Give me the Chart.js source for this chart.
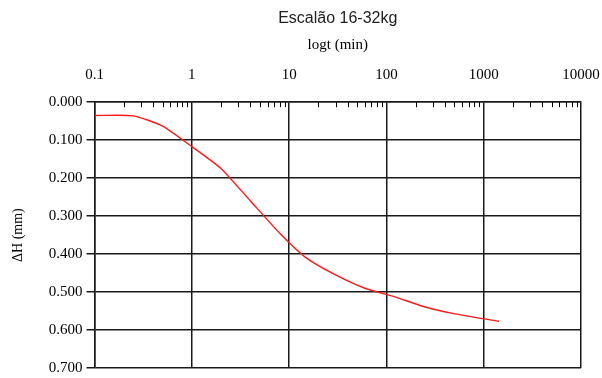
<!DOCTYPE html>
<html>
<head>
<meta charset="utf-8">
<script src="https://cdn.jsdelivr.net/npm/chart.js@4.4.1/dist/chart.umd.min.js"></script>
<style>
html, body { margin: 0; padding: 0; background: #fff; }
#wrap { width: 602px; height: 378px; }
</style>
</head>
<body>
<div id="wrap"><canvas id="c" width="602" height="378"></canvas></div>
<script>
// time readings (min) and settlement (mm)
const tempo = [0.1, 0.25, 0.5, 1, 2, 4, 8, 15, 30, 60, 120, 240, 480, 1440];
const deltaH = [0.035, 0.036, 0.063, 0.117, 0.175, 0.26, 0.345, 0.41, 0.455, 0.49, 0.512, 0.538, 0.556, 0.577];

const decadas = [0.1, 1, 10, 100, 1000, 10000];
const yTicks = [0, 0.1, 0.2, 0.3, 0.4, 0.5, 0.6, 0.7];

// all log ticks 1..9 in each decade
let xTicks = [];
for (let i = 0; i < decadas.length - 1; i++) {
  for (let k = 1; k < 10; k++) {
    xTicks.push(+(decadas[i] * k).toPrecision(6));
  }
}
xTicks.push(decadas[decadas.length - 1]);

function isDecade(v) {
  return decadas.indexOf(v) >= 0;
}

// short minor tick marks hanging under the top border
const minorTicks = {
  id: 'minorTicks',
  afterDatasetsDraw(chart) {
    const x = chart.scales.x;
    const top = chart.chartArea.top;
    const ctx = chart.ctx;
    ctx.save();
    ctx.strokeStyle = '#000';
    ctx.lineWidth = 1;
    x.ticks.forEach(function(t) {
      if (isDecade(t.value)) return;
      const px = Math.round(x.getPixelForValue(t.value)) + 0.5;
      ctx.beginPath();
      ctx.moveTo(px, top);
      ctx.lineTo(px, top + 5);
      ctx.stroke();
    });
    ctx.restore();
  }
};

const data = tempo.map(function(t, i) { return {x: t, y: deltaH[i]}; });

new Chart(document.getElementById('c'), {
  type: 'line',
  data: {
    datasets: [{
      data: data,
      borderColor: '#ff1a1a',
      borderWidth: 1.4,
      pointRadius: 0,
      fill: false,
      tension: 0.2
    }]
  },
  options: {
    responsive: false,
    animation: false,
    layout: { padding: { left: 10, right: 21, top: 7, bottom: 10 } },
    plugins: {
      legend: { display: false },
      tooltip: { enabled: false },
      title: {
        display: true,
        text: 'Escalão 16-32kg',
        fullSize: false,
        color: '#222',
        font: { family: 'Liberation Sans', size: 16, weight: 'normal' },
        padding: { top: 2, bottom: 8 }
      },
      subtitle: {
        display: true,
        text: 'logt (min)',
        fullSize: false,
        color: '#000',
        font: { family: 'Liberation Serif', size: 15 },
        padding: { top: 0, bottom: 0 }
      }
    },
    scales: {
      x: {
        type: 'logarithmic',
        position: 'top',
        min: 0.1,
        max: 10000,
        afterBuildTicks: function(scale) {
          scale.ticks = xTicks.map(function(v) { return {value: v}; });
        },
        afterFit: function(scale) {
          scale.paddingLeft = 0;
          scale.paddingRight = 0;
          scale.height = scale.height - 6;
        },
        ticks: {
          autoSkip: false,
          maxRotation: 0,
          color: '#000',
          font: { family: 'Liberation Serif', size: 15 },
          padding: 18,
          callback: function(v) { return isDecade(v) ? String(v) : ''; }
        },
        grid: {
          drawTicks: false,
          color: function(c) { return c.tick && isDecade(c.tick.value) ? '#1a1a1a' : 'rgba(0,0,0,0)'; },
          lineWidth: 1.5
        },
        border: { display: true, color: '#1a1a1a', width: 1.5 }
      },
      y: {
        reverse: true,
        min: 0,
        max: 0.7,
        afterBuildTicks: function(scale) {
          scale.ticks = yTicks.map(function(v) { return {value: v}; });
        },
        afterFit: function(scale) {
          scale.paddingTop = 0;
          scale.paddingBottom = 0;
        },
        title: {
          display: true,
          text: 'ΔH (mm)',
          color: '#000',
          font: { family: 'Liberation Serif', size: 14 },
          padding: { top: 0, bottom: 18 }
        },
        ticks: {
          color: '#000',
          font: { family: 'Liberation Serif', size: 15 },
          padding: 4,
          callback: function(v) { return v.toFixed(3); }
        },
        grid: {
          color: '#1a1a1a',
          lineWidth: 1.5,
          tickLength: 8
        },
        border: { display: true, color: '#1a1a1a', width: 1.5 }
      }
    }
  },
  plugins: [minorTicks]
});
</script>
</body>
</html>
